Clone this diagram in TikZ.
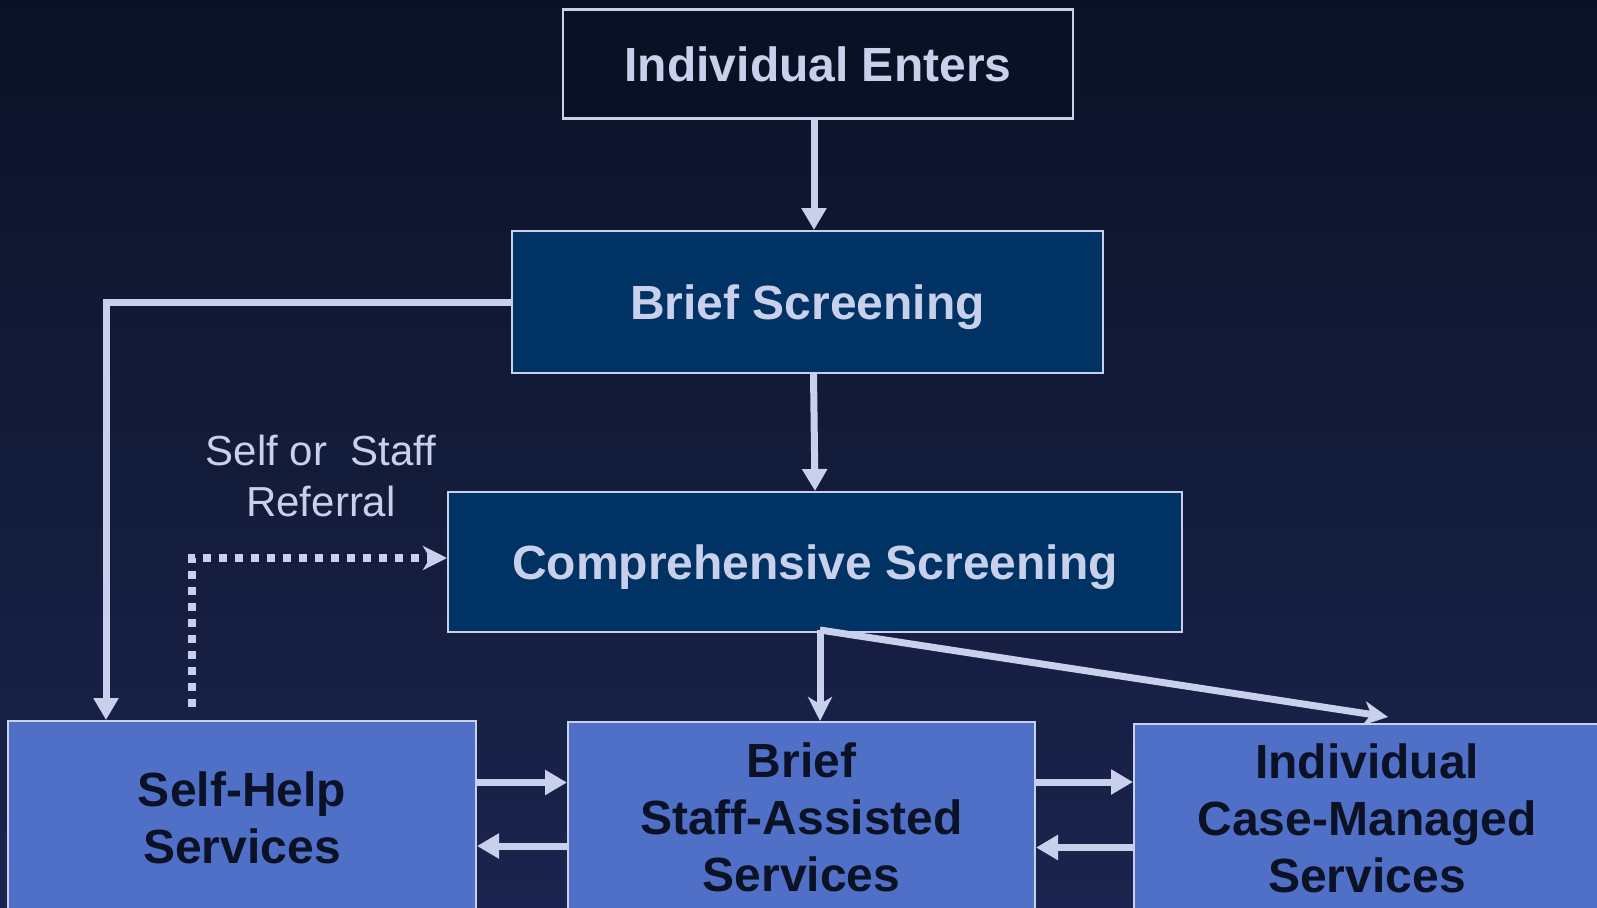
\documentclass[tikz,border=0pt]{standalone}
\usepackage{fontspec}
\setmainfont{Liberation Sans}
\usetikzlibrary{arrows.meta}

\definecolor{bgtop}{RGB}{12,18,38}
\definecolor{bgbot}{RGB}{26,36,78}
\definecolor{linec}{RGB}{200,208,236}
\definecolor{navybox}{RGB}{0,50,100}
\definecolor{bluebox}{RGB}{80,112,200}
\definecolor{darkbox}{RGB}{11,17,36}
\definecolor{inktext}{RGB}{11,18,38}

\begin{document}
\begin{tikzpicture}[x=1pt, y=-1pt,
		top_style/.style={rectangle,draw=linec,line width=2.5pt,fill=darkbox,text=linec,text depth=0pt,font=\fontsize{48}{57}\selectfont\bfseries},
		mid_style/.style={rectangle,draw=linec,line width=2pt,fill=navybox,text=linec,text depth=0pt,font=\fontsize{48}{57}\selectfont\bfseries},
		low_style/.style={rectangle,draw=linec,line width=2pt,fill=bluebox,text=inktext,align=center,font=\fontsize{48}{57}\selectfont\bfseries},
		text_style/.style={text=linec,align=center,font=\fontsize{42}{51}\selectfont},
		edge_style/.style={draw=linec,line width=7pt,-{Triangle[length=22pt,width=24pt]}},
		thin_edge/.style={draw=linec,line width=7pt,line join=miter,-{Stealth[length=24pt,width=24pt,inset=7pt]}},
		dot_edge/.style={draw=linec,line width=8pt,dash pattern=on 8pt off 8pt,-{Stealth[length=24pt,width=24pt,inset=7pt]}}]
		
		\clip (0,0) rectangle (1597,907);
		\shade[top color=bgtop,bottom color=bgbot] (0,0) rectangle (1597,907);
		
		\node[top_style,minimum width=510pt,minimum height=109pt] (enter) at (818,64) {Individual Enters};
		\node[mid_style,minimum width=591pt,minimum height=142pt] (brief) at (807.5,302) {Brief Screening};
		\node[mid_style,minimum width=734pt,minimum height=140pt] (comp) at (815,562) {Comprehensive Screening};
		\node[low_style,minimum width=468pt,minimum height=193pt] (self) at (242,817.5) {Self-Help\\Services};
		\node[low_style,minimum width=467pt,minimum height=190pt] (staff) at (801.5,817) {Brief\\Staff-Assisted\\Services};
		\node[low_style,minimum width=466pt,minimum height=189pt] (indiv) at (1367,818.5) {Individual\\Case-Managed\\Services};
		\node[text_style] (ref) at (321,476) {Self or\ \ Staff\\Referral};
		
		\draw[edge_style] ([xshift=-4pt]enter.south) -- ([xshift=-4pt]enter.south |- brief.north);
		\draw[edge_style] ([xshift=6pt]brief.south) -- (comp.north);
		\draw[edge_style] (brief.west) -| ([xshift=99pt]self.north west);
		\draw[dot_edge] ([xshift=185pt,yshift=13pt]self.north west) |- ([yshift=4pt]comp.west);
		\draw[thin_edge] ([xshift=5pt,yshift=3pt]comp.south) -- ([xshift=5pt]comp.south |- staff.north);
		\draw[thin_edge] ([xshift=5pt,yshift=3pt]comp.south) -- ([xshift=21pt,yshift=6pt]indiv.north);
		
		\draw[edge_style] ([yshift=35pt]self.east) -- ([yshift=35pt]self.east -| staff.west);
		\draw[edge_style] ([yshift=-29pt]staff.west) -- ([yshift=-29pt]staff.west -| self.east);
		\draw[edge_style] ([yshift=35pt]staff.east) -- ([yshift=35pt]staff.east -| indiv.west);
		\draw[edge_style] ([yshift=-29pt]indiv.west) -- ([yshift=-29pt]indiv.west -| staff.east);
		
\end{tikzpicture}
\end{document}
